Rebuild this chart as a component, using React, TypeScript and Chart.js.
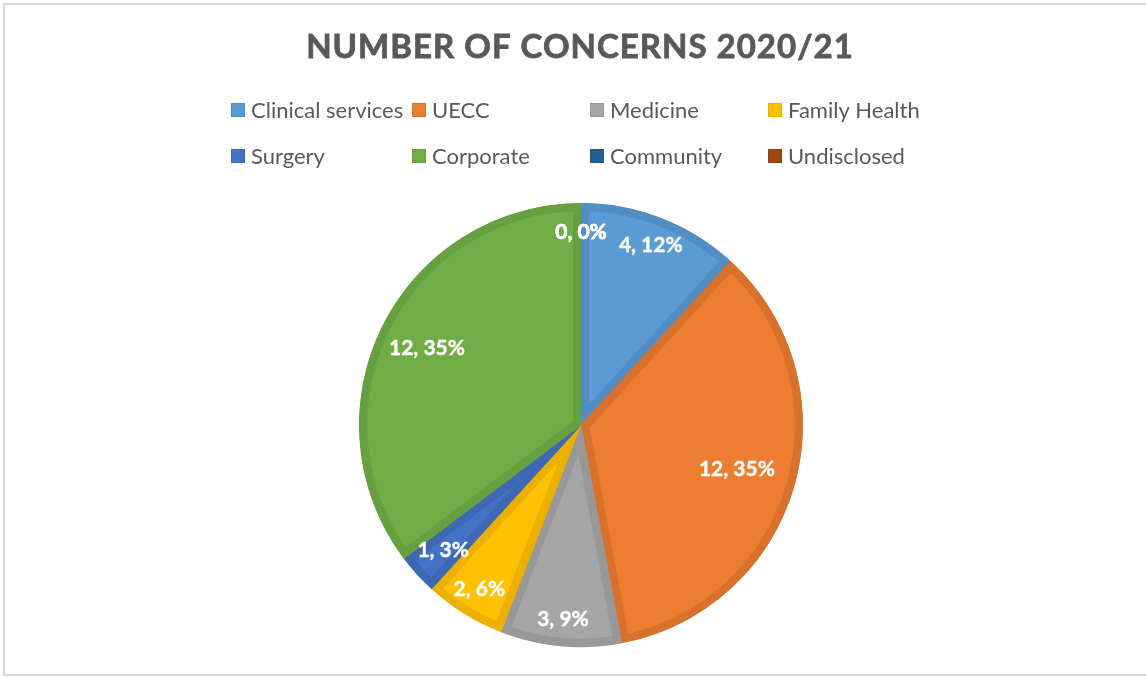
import React, { useEffect, useRef } from 'react';
import { Chart, registerables } from 'chart.js';

Chart.register(...registerables);

const TITLE = 'NUMBER OF CONCERNS 2020/21';
const categories = ['Clinical services', 'UECC', 'Medicine', 'Family Health', 'Surgery', 'Corporate', 'Community', 'Undisclosed'];
const values = [4, 12, 3, 2, 1, 12, 0, 0];
const fillColors = ['#5B9BD5', '#ED7D31', '#A5A5A5', '#FFC000', '#4472C4', '#70AD47', '#255E91', '#9E480E'];
const borderColors = ['#528DC4', '#D8712C', '#989898', '#EBB000', '#3E68B4', '#66A041', '#225686', '#91420D'];

const FONT = 'Lato, "Open Sans", sans-serif';
const TEXT_COLOR = '#595959';

// label radial placement (fraction of radius), per slice
const labelRadius = [0.87, 0.73, 0.88, 0.87, 0.84, 0.775, 0.87, 0.87];

const decorPlugin = {
  id: 'decor',
  beforeDraw(chart: any) {
    const ctx = chart.ctx;
    ctx.save();
    ctx.fillStyle = '#ffffff';
    ctx.fillRect(0, 0, chart.width, chart.height);
    ctx.strokeStyle = '#d9d9d9';
    ctx.lineWidth = 2;
    ctx.strokeRect(4, 4, chart.width + 10, 671);
    // title
    ctx.fillStyle = TEXT_COLOR;
    ctx.strokeStyle = TEXT_COLOR;
    ctx.lineWidth = 0.8;
    ctx.font = `bold 33px ${FONT}`;
    (ctx as any).letterSpacing = '1px';
    ctx.textAlign = 'center';
    ctx.textBaseline = 'middle';
    ctx.fillText(TITLE, 580, 47);
    ctx.strokeText(TITLE, 580, 47);
    (ctx as any).letterSpacing = '0px';
    // legend
    const colX = [231, 412, 590, 768];
    const rowY = [110, 156];
    ctx.font = `22px ${FONT}`;
    ctx.textAlign = 'left';
    categories.forEach((c, i) => {
      const x = colX[i % 4];
      const y = rowY[Math.floor(i / 4)];
      ctx.fillStyle = fillColors[i];
      ctx.fillRect(x, y - 7, 14, 14);
      ctx.strokeStyle = borderColors[i];
      ctx.lineWidth = 1;
      ctx.strokeRect(x + 0.5, y - 6.5, 13, 13);
      ctx.fillStyle = TEXT_COLOR;
      ctx.fillText(c, x + 20, y + 1);
    });
    ctx.restore();
  },
  afterDatasetsDraw(chart: any) {
    const ctx = chart.ctx;
    const meta = chart.getDatasetMeta(0);
    const total = values.reduce((a, b) => a + b, 0);
    ctx.save();
    ctx.fillStyle = '#ffffff';
    ctx.strokeStyle = '#ffffff';
    ctx.lineWidth = 0.4;
    ctx.font = `bold 21px ${FONT}`;
    ctx.textAlign = 'center';
    ctx.textBaseline = 'middle';
    meta.data.forEach((arc: any, i: number) => {
      const p = arc.getProps(['startAngle', 'endAngle', 'outerRadius', 'x', 'y'], true);
      const mid = (p.startAngle + p.endAngle) / 2;
      const r = p.outerRadius * labelRadius[i];
      const x = p.x + Math.cos(mid) * r;
      const y = p.y + Math.sin(mid) * r;
      const pct = Math.round((values[i] / total) * 100);
      const t = `${values[i]}, ${pct}%`;
      ctx.fillText(t, x, y);
      ctx.strokeText(t, x, y);
    });
    ctx.restore();
  },
};

export default function App() {
  const ref = useRef<HTMLCanvasElement>(null);
  useEffect(() => {
    document.body.style.margin = '0';
    const chart = new Chart(ref.current!, {
      type: 'pie',
      data: {
        labels: categories,
        datasets: [
          {
            data: values,
            backgroundColor: fillColors,
            borderColor: borderColors,
            borderWidth: 8,
            borderAlign: 'inner',
          } as any,
        ],
      },
      options: {
        responsive: false,
        animation: false,
        layout: { padding: { top: 203, bottom: 30, left: 16, right: 0 } },
        plugins: {
          legend: { display: false },
          tooltip: { enabled: false },
          title: { display: false },
        },
      },
      plugins: [decorPlugin],
    });
    return () => chart.destroy();
  }, []);
  return (
    <div style={{ position: 'absolute', left: 0, top: 0, width: 1146, height: 677 }}>
      <canvas ref={ref} width={1146} height={677} style={{ display: 'block' }} />
    </div>
  );
}
